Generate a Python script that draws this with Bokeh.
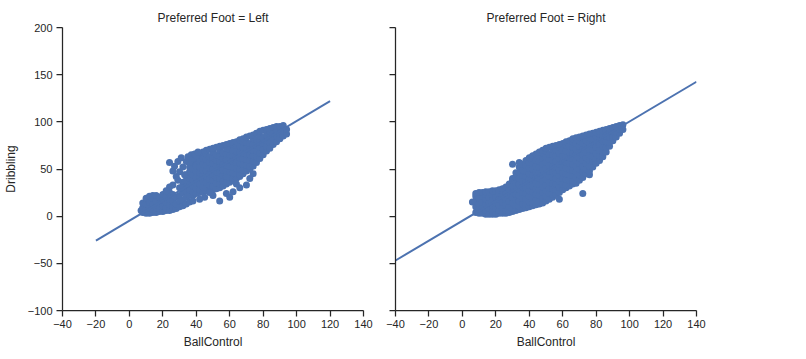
from bokeh.plotting import figure
from bokeh.layouts import row
from bokeh.models import FixedTicker, Range1d
from bokeh.embed import file_html
from bokeh.resources import INLINE

# ---------------- data ----------------
titles = ["Preferred Foot = Left", "Preferred Foot = Right"]
x_label = "BallControl"
y_label = "Dribbling"
x_ticks = [-40, -20, 0, 20, 40, 60, 80, 100, 120, 140]
y_ticks = [-100, -50, 0, 50, 100, 150, 200]

# Left-footed players: (BallControl, [Dribbling values at that BallControl])
left_cols = [
    (7, [6]), (8, [4, 9, 14]), (10, [3, 7, 13, 19]), (12, [3, 9, 15, 21]),
    (14, [4, 7, 13, 19, 22]), (16, [4, 10, 16, 22]), (18, [5, 8, 14, 20]),
    (20, [5, 11, 17, 23]), (22, [6, 9, 15, 21]), (24, [6, 12, 18, 25]),
    (26, [7, 10, 16, 23]), (28, [8, 13, 20]), (30, [10, 16, 22, 30]),
    (32, [11, 17, 25, 36]), (34, [13, 20, 26, 32, 38, 44]),
    (36, [15, 22, 28, 34, 40, 47, 52]), (38, [22, 26, 32, 38, 44, 50, 56]),
    (40, [24, 29, 35, 41, 47, 53, 60]), (42, [25, 28, 34, 40, 46, 52, 58, 65]),
    (44, [26, 31, 37, 43, 49, 55, 61, 68]), (46, [27, 30, 36, 42, 48, 54, 60, 66, 70]),
    (48, [28, 33, 39, 45, 51, 57, 63, 71]), (50, [28, 32, 38, 44, 50, 56, 62, 68, 72]),
    (52, [29, 35, 41, 47, 53, 59, 65, 73]), (54, [30, 34, 40, 46, 52, 58, 64, 70, 74]),
    (56, [32, 37, 43, 49, 55, 61, 67, 75]), (58, [34, 36, 42, 48, 54, 60, 66, 72, 76]),
    (60, [36, 41, 47, 53, 59, 65, 71, 77]), (62, [38, 40, 46, 52, 58, 64, 70, 76, 78]),
    (64, [40, 45, 51, 57, 63, 69, 75, 79]), (66, [42, 44, 50, 56, 62, 68, 74, 81]),
    (68, [45, 49, 55, 61, 67, 73, 79, 82]), (70, [48, 54, 60, 66, 72, 78, 84]),
    (72, [50, 53, 59, 65, 71, 77, 85]), (74, [53, 58, 64, 70, 76, 82, 86]),
    (76, [57, 63, 69, 75, 81, 88]), (78, [61, 67, 73, 79, 85, 90]),
    (80, [65, 71, 77, 83, 91]), (82, [69, 74, 80, 86, 92]),
    (84, [72, 78, 84, 90, 93]), (86, [76, 82, 88, 94]), (88, [79, 85, 91, 95]),
    (90, [82, 88, 95]), (92, [85, 90, 96]), (94, [87, 92]),
]
# scattered left-footed players off the main cloud
left_strays = [(24, 57), (26, 48), (27, 53), (28, 42), (29, 58), (30, 47), (31, 62), (32, 52),
               (33, 44), (34, 58), (35, 63), (36, 57), (37, 65), (38, 61), (39, 66), (40, 64),
               (41, 68), (26, 33), (29, 38), (31, 30), (24, 31), (22, 27),
               (45, 20), (50, 22), (54, 16), (58, 24), (60, 20), (62, 26), (66, 30), (70, 33),
               (48, 25), (72, 40), (74, 45), (64, 34), (42, 18), (38, 16)]

# Right-footed players: (BallControl, [Dribbling values at that BallControl])
right_cols = [
    (6, [15]), (8, [4, 10, 16, 21, 24]), (10, [3, 7, 13, 19, 25]), (12, [3, 9, 15, 21, 25]),
    (14, [2, 6, 12, 18, 23, 26]), (16, [2, 8, 14, 20, 26]), (18, [2, 5, 11, 17, 23, 27]),
    (20, [2, 8, 14, 20, 27]), (22, [3, 6, 12, 18, 24, 28]), (24, [3, 9, 15, 21, 27, 29]),
    (26, [3, 6, 12, 18, 24, 31]), (28, [4, 10, 16, 22, 28, 34]),
    (30, [5, 8, 14, 20, 26, 32, 38, 40, 55]), (32, [6, 11, 17, 23, 29, 35, 41, 46]),
    (34, [7, 10, 16, 22, 28, 34, 40, 46, 52, 57]), (36, [8, 13, 19, 25, 31, 37, 43, 49, 55]),
    (38, [9, 12, 18, 24, 30, 36, 42, 48, 54, 59]), (40, [10, 15, 21, 27, 33, 39, 45, 51, 57, 62]),
    (42, [11, 14, 20, 26, 32, 38, 44, 50, 56, 61, 64]),
    (44, [12, 17, 23, 29, 35, 41, 47, 53, 59, 66]),
    (46, [13, 16, 22, 28, 34, 40, 46, 52, 58, 64, 68]),
    (48, [14, 19, 25, 31, 37, 43, 49, 55, 61, 67, 70]),
    (50, [16, 21, 27, 33, 39, 45, 51, 57, 63, 69, 72]),
    (52, [18, 24, 30, 36, 42, 48, 54, 60, 66, 73]),
    (54, [20, 23, 29, 35, 41, 47, 53, 59, 65, 71, 74]),
    (56, [23, 28, 34, 40, 46, 52, 58, 64, 70, 75]),
    (58, [18, 25, 31, 37, 43, 49, 55, 61, 67, 73, 76]),
    (60, [28, 34, 40, 46, 52, 58, 64, 70, 77]),
    (62, [30, 33, 39, 45, 51, 57, 63, 69, 75, 79]),
    (64, [32, 38, 44, 50, 56, 62, 68, 74, 80]),
    (66, [34, 37, 43, 49, 55, 61, 67, 73, 79, 82]),
    (68, [35, 41, 47, 53, 59, 65, 71, 77, 83]),
    (70, [38, 44, 50, 56, 62, 68, 74, 80, 84]),
    (72, [24, 41, 47, 53, 59, 65, 71, 77, 83, 85]),
    (74, [45, 50, 56, 62, 68, 74, 80, 86]),
    (76, [44, 48, 53, 59, 65, 71, 77, 83, 87]),
    (78, [52, 58, 64, 70, 76, 82, 88]), (80, [56, 61, 67, 73, 79, 85, 89]),
    (82, [59, 64, 70, 76, 82, 87, 90]), (84, [63, 68, 74, 80, 86, 91]),
    (86, [68, 73, 79, 85, 90, 92]), (88, [74, 78, 84, 90, 93]), (90, [80, 85, 90, 94]),
    (92, [84, 89, 95]), (94, [88, 92, 96]), (96, [92, 97]),
]

# Regression lines (end points)
left_fit_x = [-20, 120]
left_fit_y = [-26, 122]
right_fit_x = [-40, 140]
right_fit_y = [-47, 142.5]

# ---------------- styling ----------------
BLUE = "#4C72B0"
INK = "#262626"
FONT = "Liberation Sans"


def minus(v):
    return ("\u2212" + str(-v)) if v < 0 else str(v)


def flatten(cols, extra=()):
    xs, ys = [], []
    for bc, drs in cols:
        for d in drs:
            xs.append(bc)
            ys.append(d)
    for bc, d in extra:
        xs.append(bc)
        ys.append(d)
    return xs, ys


def make_panel(title, xs, ys, fit_x, fit_y, show_y, left_border):
    p = figure(frame_width=301, frame_height=283, output_backend="svg",
               toolbar_location=None, x_range=Range1d(-40, 140), y_range=Range1d(-100, 200),
               min_border_left=left_border, min_border_right=10, min_border_top=27,
               min_border_bottom=40)
    p.title.text = title
    p.title.align = "center"
    p.title.text_font = FONT
    p.title.text_font_size = "12px"
    p.title.text_font_style = "normal"
    p.title.text_color = INK
    p.title.standoff = 6
    p.outline_line_color = None
    p.grid.visible = False
    p.background_fill_color = "white"

    p.scatter(xs, ys, size=7, fill_color=BLUE, fill_alpha=1.0, line_color=None)
    p.line(fit_x, fit_y, line_color=BLUE, line_width=2)

    for ax in (p.xaxis[0], p.yaxis[0]):
        ax.axis_line_color = INK
        ax.axis_line_width = 1.25
        ax.major_tick_line_color = INK
        ax.major_tick_line_width = 1.25
        ax.major_tick_out = 6
        ax.major_tick_in = 0
        ax.minor_tick_line_color = None
        ax.major_label_text_font = FONT
        ax.major_label_text_font_size = "11px"
        ax.major_label_text_color = INK
        ax.major_label_standoff = 3
        ax.axis_label_text_font = FONT
        ax.axis_label_text_font_size = "12px"
        ax.axis_label_text_font_style = "normal"
        ax.axis_label_text_color = INK

    p.xaxis.ticker = FixedTicker(ticks=x_ticks)
    p.yaxis.ticker = FixedTicker(ticks=y_ticks)
    p.xaxis.major_label_overrides = {t: minus(t) for t in x_ticks}
    p.xaxis.axis_label = x_label
    p.xaxis.axis_label_standoff = 4
    if show_y:
        p.yaxis.major_label_overrides = {t: minus(t) for t in y_ticks}
        p.yaxis.axis_label = y_label
        p.yaxis.axis_label_standoff = 7
        p.yaxis.major_label_standoff = 4
    else:
        p.yaxis.major_label_overrides = {t: "" for t in y_ticks}
    return p


lx, ly = flatten(left_cols, left_strays)
rx, ry = flatten(right_cols)
p1 = make_panel(titles[0], lx, ly, left_fit_x, left_fit_y, True, 62)
p2 = make_panel(titles[1], rx, ry, right_fit_x, right_fit_y, False, 22)

layout = row(p1, p2)
open("out.html", "w").write(file_html(layout, INLINE))
